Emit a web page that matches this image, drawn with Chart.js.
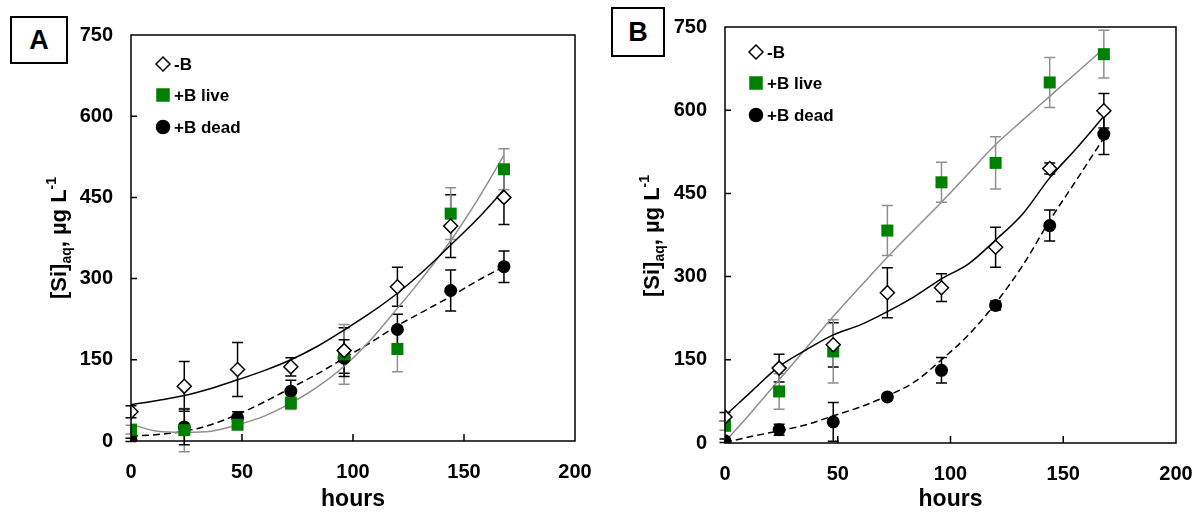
<!DOCTYPE html>
<html>
<head>
<meta charset="utf-8">
<script src="https://cdn.jsdelivr.net/npm/chart.js@4/dist/chart.umd.min.js"></script>
<style>
  html, body { margin: 0; padding: 0; background: #fff; }
  #wrap { position: relative; width: 1194px; height: 513px; overflow: hidden; font-family: "Liberation Sans", Arial, sans-serif; }
  .pane { position: absolute; top: 0; width: 597px; height: 513px; }
  .tag { position: absolute; border: 2px solid #000; box-sizing: border-box; font: bold 27px "Liberation Sans", Arial, sans-serif; display: flex; align-items: center; justify-content: center; background: #fff; }
</style>
</head>
<body>
<div id="wrap">
  <div class="pane" style="left:0"><canvas id="cA" width="597" height="513"></canvas></div>
  <div class="pane" style="left:597px"><canvas id="cB" width="597" height="513"></canvas></div>
  <div class="tag" style="left:10px; top:16px; width:58px; height:48px;">A</div>
  <div class="tag" style="left:611px; top:7px; width:54px; height:50px;">B</div>
</div>
<script>
// ---------- data ----------
const hours = [0, 24, 48, 72, 96, 120, 144, 168];
const fitHours = [0, 12, 24, 36, 48, 60, 72, 84, 96, 108, 120, 132, 144, 156, 168];
const xTickValues = [0, 50, 100, 150, 200];
const yTickValues = [0, 150, 300, 450, 600, 750];
const seriesNames = ["-B", "+B live", "+B dead"];
const xTitle = "hours";

// Panel A
const aMinusB    = [54, 101, 132, 137, 167, 285, 397, 450];
const aMinusBErr = [11, 46, 50, 17, 42, 36, 58, 50];
const aLive      = [21, 20, 30, 70, 160, 170, 420, 502];
const aLiveErr   = [8, 40, 6, 12, 55, 42, 48, 38];
const aDead      = [2, 26, 43, 92, 153, 206, 278, 322];
const aDeadErr   = [3, 33, 11, 20, 34, 28, 38, 29];
const aFitMinusB = [67, 75, 84, 97, 113, 130, 150, 175, 205, 237, 273, 315, 362, 410, 464];
const aFitLive   = [31, 18, 16, 18, 30, 46, 70, 100, 138, 187, 245, 305, 370, 445, 528];
const aFitDead   = [9, 12, 18, 30, 49, 72, 98, 124, 153, 182, 213, 240, 267, 296, 322];

// Panel B
const bMinusB    = [47, 135, 177, 271, 280, 353, 495, 599];
const bMinusBErr = [8, 25, 40, 45, 25, 36, 10, 31];
const bLive      = [31, 93, 165, 383, 470, 505, 650, 701];
const bLiveErr   = [8, 32, 57, 45, 36, 47, 45, 43];
const bDead      = [4, 24, 38, 83, 131, 248, 392, 557];
const bDeadErr   = [3, 10, 35, 5, 23, 8, 28, 37];
const bFitMinusB = [49, 94, 138, 168, 195, 213, 237, 264, 296, 323, 366, 413, 478, 532, 589];
const bFitLive   = [2, 57, 114, 171, 228, 282, 335, 385, 434, 486, 538, 582, 625, 668, 711];
const bFitDead   = [1, 12, 22, 33, 49, 65, 85, 110, 150, 195, 252, 320, 401, 475, 550];

// ---------- styles ----------
const GREEN = "#008000";
const GREY = "#8f8f8f";
const FONT = '"Liberation Sans", Arial, sans-serif';

function pts(xs, ys) { return xs.map((x, i) => ({ x: x, y: ys[i] })); }

const errorBarPlugin = {
  id: "errorBars",
  beforeDatasetsDraw(chart) {
    const ctx = chart.ctx;
    const xs = chart.scales.x, ys = chart.scales.y;
    ctx.save();
    chart.data.datasets.forEach((ds) => {
      if (!ds.errors) return;
      ctx.strokeStyle = ds.errorColor;
      ctx.lineWidth = 1.5;
      ds.data.forEach((p, i) => {
        const e = ds.errors[i];
        const px = xs.getPixelForValue(p.x);
        const top = ys.getPixelForValue(p.y + e);
        const bot = ys.getPixelForValue(p.y - e);
        ctx.beginPath();
        ctx.moveTo(px, top); ctx.lineTo(px, bot);
        ctx.moveTo(px - 5.5, top); ctx.lineTo(px + 5.5, top);
        ctx.moveTo(px - 5.5, bot); ctx.lineTo(px + 5.5, bot);
        ctx.stroke();
      });
    });
    ctx.restore();
  }
};

const framePlugin = {
  id: "frame",
  afterDraw(chart, args, opts) {
    const ctx = chart.ctx;
    const a = chart.chartArea;
    const xs = chart.scales.x, ys = chart.scales.y;
    ctx.save();
    ctx.strokeStyle = "#000";
    ctx.lineWidth = 1.5;
    ctx.strokeRect(a.left, a.top, a.right - a.left, a.bottom - a.top);
    // inside tick marks
    ctx.beginPath();
    xs.ticks.forEach(t => {
      const px = xs.getPixelForValue(t.value);
      if (px <= a.left + 1 || px >= a.right - 1) return;
      ctx.moveTo(px, a.bottom); ctx.lineTo(px, a.bottom - 7);
    });
    ys.ticks.forEach(t => {
      const py = ys.getPixelForValue(t.value);
      if (py >= a.bottom - 1 || py <= a.top + 1) return;
      ctx.moveTo(a.left, py); ctx.lineTo(a.left + 6, py);
    });
    ctx.stroke();

    // y axis title with subscript / superscript
    ctx.fillStyle = "#000";
    ctx.textBaseline = "alphabetic";
    const big = "bold 22px " + FONT, small = "bold 14px " + FONT;
    const parts = [
      { t: "[Si]", f: big, dy: 0 },
      { t: "aq", f: small, dy: 5 },
      { t: ", \u00b5g L", f: big, dy: 0 },
      { t: "-1", f: small, dy: -10 }
    ];
    let total = 0;
    parts.forEach(p => { ctx.font = p.f; p.w = ctx.measureText(p.t).width; total += p.w; });
    ctx.translate(opts.titleX, opts.titleY);
    ctx.rotate(-Math.PI / 2);
    let x = -total / 2;
    parts.forEach(p => { ctx.font = p.f; ctx.fillText(p.t, x, 8 + p.dy); x += p.w; });
    ctx.restore();

    // legend inside plot
    ctx.save();
    const L = opts.legend;
    ctx.font = "bold 17px " + FONT;
    ctx.textBaseline = "middle";
    ctx.fillStyle = "#000";
    [0, 1, 2].forEach(i => {
      const ds = chart.data.datasets[i];
      const mx = a.left + L.dx, my = a.top + L.rows[i];
      ctx.beginPath();
      ctx.lineWidth = 1.5;
      ctx.strokeStyle = ds.pointBorderColor;
      ctx.fillStyle = ds.pointBackgroundColor;
      Chart.helpers.drawPoint(ctx, { pointStyle: ds.pointStyle, radius: ds.pointRadius, borderWidth: 1.5, rotation: 0 }, mx, my);
      ctx.fillStyle = "#000";
      ctx.fillText(ds.label, mx + 11, my + 1);
    });
    ctx.restore();
  }
};

function makePanel(id, d, geo) {
  const datasets = [
    { label: seriesNames[0], data: pts(hours, d.minusB), errors: d.minusBErr, errorColor: "#000",
      showLine: false, pointStyle: "rectRot", pointRadius: 7, pointBackgroundColor: "#fff",
      pointBorderColor: "#000", pointBorderWidth: 1.5 },
    { label: seriesNames[1], data: pts(hours, d.live), errors: d.liveErr, errorColor: GREY,
      showLine: false, pointStyle: "rect", pointRadius: 8.5, pointBackgroundColor: GREEN,
      pointBorderColor: GREEN, pointBorderWidth: 0 },
    { label: seriesNames[2], data: pts(hours, d.dead), errors: d.deadErr, errorColor: "#000",
      showLine: false, pointStyle: "circle", pointRadius: 6.5, pointBackgroundColor: "#000",
      pointBorderColor: "#000", pointBorderWidth: 0 },
    { label: "fit -B", data: pts(fitHours, d.fitMinusB), showLine: true, pointRadius: 0,
      borderColor: "#000", borderWidth: 1.5, cubicInterpolationMode: "monotone" },
    { label: "fit live", data: pts(fitHours, d.fitLive), showLine: true, pointRadius: 0,
      borderColor: GREY, borderWidth: 1.5, cubicInterpolationMode: "monotone" },
    { label: "fit dead", data: pts(fitHours, d.fitDead), showLine: true, pointRadius: 0,
      borderColor: "#000", borderWidth: 1.5, borderDash: [7, 4], cubicInterpolationMode: "monotone" }
  ];
  return new Chart(document.getElementById(id), {
    type: "scatter",
    data: { datasets },
    plugins: [errorBarPlugin, framePlugin],
    options: {
      responsive: false,
      animation: false,
      events: [],
      layout: { padding: { left: 0, top: geo.top, right: geo.right, bottom: 0 } },
      plugins: {
        legend: { display: false },
        tooltip: { enabled: false },
        frame: { titleX: geo.titleX, titleY: geo.titleY, legend: geo.legend }
      },
      scales: {
        x: {
          type: "linear", min: 0, max: 200,
          afterBuildTicks: (s) => { s.ticks = xTickValues.map(v => ({ value: v })); },
          afterFit: (s) => { s.height = geo.xh; s.paddingLeft = 0; s.paddingRight = 0; },
          grid: { display: false, drawTicks: false },
          border: { display: false },
          ticks: { color: "#000", font: { family: FONT, size: 20, weight: "bold" }, padding: 19, maxRotation: 0 },
          title: { display: true, text: xTitle, color: "#000", font: { family: FONT, size: 23, weight: "bold" }, padding: { top: 0, bottom: 0 } }
        },
        y: {
          type: "linear", min: 0, max: 750,
          afterBuildTicks: (s) => { s.ticks = yTickValues.map(v => ({ value: v })); },
          afterFit: (s) => { s.width = geo.yw; s.paddingTop = 0; s.paddingBottom = 0; },
          grid: { display: false, drawTicks: false },
          border: { display: false },
          ticks: { color: "#000", font: { family: FONT, size: 20, weight: "bold" }, padding: 18 }
        }
      }
    }
  });
}

makePanel("cA", {
  minusB: aMinusB, minusBErr: aMinusBErr, live: aLive, liveErr: aLiveErr, dead: aDead, deadErr: aDeadErr,
  fitMinusB: aFitMinusB, fitLive: aFitLive, fitDead: aFitDead
}, { top: 35, right: 22, xh: 72, yw: 131, titleX: 58, titleY: 238, legend: { dx: 32, rows: [29, 60, 92] } });

makePanel("cB", {
  minusB: bMinusB, minusBErr: bMinusBErr, live: bLive, liveErr: bLiveErr, dead: bDead, deadErr: bDeadErr,
  fitMinusB: bFitMinusB, fitLive: bFitLive, fitDead: bFitDead
}, { top: 27, right: 18, xh: 70, yw: 128, titleX: 54, titleY: 236, legend: { dx: 31, rows: [25, 56, 88] } });
</script>
</body>
</html>
